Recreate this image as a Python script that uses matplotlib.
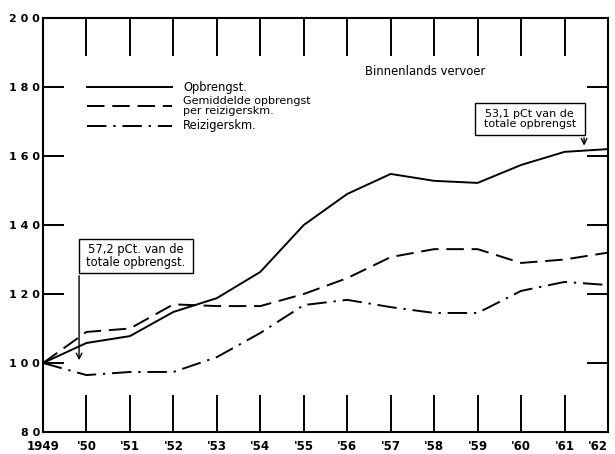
import matplotlib
matplotlib.use("Agg")
import matplotlib.pyplot as plt
from matplotlib.patches import Rectangle

# jaren en indexcijfers (1949 = 100)
jaren = list(range(1949, 1963))
jaar_labels = ["1949", "'50", "'51", "'52", "'53", "'54", "'55", "'56",
               "'57", "'58", "'59", "'60", "'61", "'62"]
opbrengst = [100, 105.8, 107.8, 114.8, 118.8, 126.4, 140, 149,
             154.8, 152.8, 152.2, 157.4, 161.2, 162]
gem_opbrengst = [100, 109, 110, 117, 116.5, 116.5, 120, 124.6,
                 130.7, 133, 133, 129, 130, 132]
reizigerskm = [100, 96.5, 97.4, 97.4, 101.7, 108.7, 116.8, 118.3,
               116.2, 114.5, 114.5, 120.9, 123.5, 122.6]
y_ticks = [80, 100, 120, 140, 160, 180, 200]

plt.rcParams['font.family'] = ['DejaVu Sans']

fig = plt.figure(figsize=(6.15, 4.54), dpi=100)
ax = fig.add_axes([43 / 615, 22 / 454, 565 / 615, 414 / 454])

kleur = "black"
streep = (0, (9, 4))
streeppunt = (0, (10, 3.5, 1.2, 3.5))
ax.plot(jaren, opbrengst, color=kleur, lw=1.4)
ax.plot(jaren, gem_opbrengst, color=kleur, lw=1.4, linestyle=streep)
ax.plot(jaren, reizigerskm, color=kleur, lw=1.4, linestyle=streeppunt)

ax.set_xlim(1949, 1962)
ax.set_ylim(80, 200)
ax.set_xticks(jaren)
ax.set_xticklabels(jaar_labels, fontsize=8.5, fontweight="bold")
ax.get_xticklabels()[-1].set_horizontalalignment("right")
ax.set_yticks(y_ticks)
ax.set_yticklabels([" ".join(str(v)) for v in y_ticks], fontsize=8, fontweight="bold")

for s in ax.spines.values():
    s.set_linewidth(1.5)

ax.tick_params(axis="x", direction="in", length=27, width=1.4,
               top=True, bottom=True, pad=6)
ax.tick_params(axis="y", direction="in", length=15, width=1.4,
               left=True, right=True, pad=2)

# legenda met de hand
lx0, lx1 = 1949.0 + 44 / 43.46, 1949 + 129 / 43.46
ax.plot([lx0, lx1], [180, 180], color=kleur, lw=1.4)
ax.plot([lx0, lx1], [174.5, 174.5], color=kleur, lw=1.4, linestyle=streep)
ax.plot([lx0, lx1], [168.8, 168.8], color=kleur, lw=1.4, linestyle=streeppunt)
tx = 1949 + 140 / 43.46
ax.text(tx, 180, "Opbrengst.", fontsize=8.3, va="center")
ax.text(tx, 174.5, "Gemiddelde opbrengst\nper reizigerskm.", fontsize=8,
        va="center", linespacing=0.95)
ax.text(tx, 168.8, "Reizigerskm.", fontsize=8.3, va="center")

ax.text(1949 + 322 / 43.46, 184.5, "Binnenlands vervoer", fontsize=8.4, va="center")

# toelichtingen
ax.add_patch(Rectangle((1949.83, 126.1), 2.62, 9.8, fc="white", ec=kleur, lw=1.0))
ax.annotate("", xy=(1949.83, 100), xytext=(1949.83, 126.1),
            arrowprops=dict(arrowstyle="->", color=kleur, lw=1.0))
ax.text(1949.83 + 1.31, 131.0, "57,2 pCt. van de\ntotale opbrengst.", fontsize=8.3,
        va="center", ha="center", linespacing=1.0)

ax.add_patch(Rectangle((1958.94, 166.1), 2.52, 9.3, fc="white", ec=kleur, lw=1.0))
ax.annotate("", xy=(1961.45, 162.2), xytext=(1961.45, 166.1),
            arrowprops=dict(arrowstyle="->", color=kleur, lw=1.0))
ax.text(1958.94 + 1.26, 170.75, "53,1 pCt van de\ntotale opbrengst", fontsize=8,
        va="center", ha="center", linespacing=0.95)

fig.savefig("out.png", dpi=100)
